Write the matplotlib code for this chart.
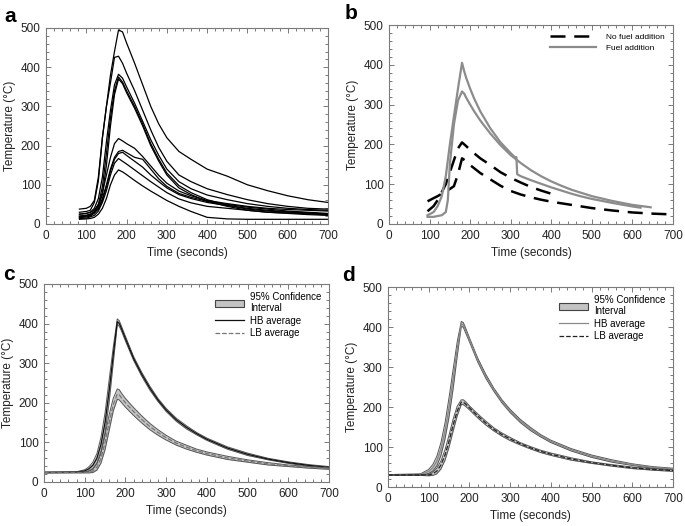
import matplotlib
matplotlib.use("Agg")
import matplotlib.pyplot as plt
from matplotlib.ticker import MultipleLocator
from matplotlib.patches import Patch
from matplotlib.lines import Line2D
import numpy as np

plt.rcParams['font.family'] = ['Liberation Sans', 'DejaVu Sans']

# ---------------- Panel a data ----------------
t_a = [83, 100, 110, 120, 130, 140, 150, 160, 170, 180, 190, 200, 220, 240, 260,
       280, 300, 330, 360, 400, 450, 500, 550, 600, 650, 700]
a_h1 = [38, 40, 45, 60, 120, 220, 300, 380, 440, 495, 490, 462, 410, 355, 300,
        255, 220, 185, 165, 140, 122, 100, 85, 72, 62, 55]
a_h2 = [30, 32, 35, 55, 110, 220, 300, 360, 425, 428, 410, 385, 340, 290, 240,
        195, 160, 125, 108, 90, 75, 62, 52, 45, 40, 38]
a_h3 = [25, 27, 30, 40, 65, 120, 210, 290, 355, 382, 372, 350, 308, 262, 215,
        175, 140, 108, 90, 74, 62, 52, 45, 40, 37, 35]
a_h4 = [20, 22, 25, 32, 50, 95, 180, 270, 340, 375, 362, 340, 300, 255, 205,
        165, 130, 98, 80, 62, 48, 38, 33, 30, 28, 25]
a_h5 = [16, 18, 20, 28, 45, 75, 150, 250, 330, 370, 358, 335, 295, 250, 200,
        160, 125, 92, 75, 58, 45, 35, 30, 28, 26, 23]
a_l1 = [25, 27, 30, 35, 50, 80, 125, 170, 205, 218, 212, 205, 193, 172, 148,
        124, 104, 84, 72, 60, 52, 45, 40, 37, 35, 33]
a_l2 = [20, 22, 25, 30, 40, 65, 100, 140, 170, 185, 188, 182, 170, 165, 140,
        115, 96, 78, 68, 58, 50, 43, 38, 33, 30, 27]
a_l3 = [18, 20, 22, 28, 38, 60, 95, 135, 165, 180, 183, 175, 160, 145, 125,
        108, 92, 75, 65, 55, 47, 40, 35, 31, 28, 25]
a_l4 = [14, 15, 18, 22, 33, 55, 85, 125, 155, 167, 160, 153, 138, 123, 108,
        94, 80, 64, 54, 45, 40, 35, 30, 27, 24, 22]
a_l5 = [12, 13, 14, 17, 25, 40, 65, 100, 125, 138, 133, 126, 111, 97, 84,
        72, 60, 45, 32, 17, 13, 12, 12, 12, 12, 12]
a_series = [a_h1, a_h2, a_h3, a_h4, a_h5, a_l1, a_l2, a_l3, a_l4, a_l5]

# ---------------- Panel b data ----------------
t_b_dash1 = [95, 110, 120, 130, 140, 150, 160, 170, 180, 190, 200, 225, 250, 275,
             300, 325, 350, 375, 400, 415]
b_dash1 = [32, 45, 60, 80, 100, 130, 160, 190, 205, 196, 186, 165, 148, 130,
           116, 104, 93, 84, 76, 70]
t_b_dash2 = [95, 110, 120, 130, 140, 150, 160, 170, 180, 190, 200, 225, 250, 275,
             300, 325, 350, 375, 400, 450, 500, 550, 600, 650, 700]
b_dash2 = [57, 65, 70, 76, 82, 88, 95, 125, 165, 158, 148, 128, 112, 96,
           83, 74, 67, 61, 56, 48, 40, 34, 29, 26, 24]
t_b_gray1 = [95, 110, 120, 130, 140, 150, 160, 170, 180, 185, 190, 200, 210, 225,
             250, 275, 300, 312, 314, 316, 325, 350, 375, 400, 425, 450, 475,
             500, 550, 600, 620]
b_gray1 = [22, 30, 45, 70, 120, 200, 270, 340, 405, 385, 368, 340, 315, 283,
           240, 205, 178, 166, 168, 125, 120, 110, 101, 92, 84, 76, 69,
           63, 53, 44, 41]
t_b_gray2 = [95, 110, 120, 130, 140, 145, 150, 160, 170, 180, 185, 190, 200, 210,
             225, 250, 275, 300, 325, 350, 375, 400, 425, 450, 475, 500, 550,
             600, 645]
b_gray2 = [18, 18, 20, 22, 30, 60, 150, 250, 310, 333, 328, 318, 300, 283,
           260, 227, 198, 173, 153, 135, 120, 107, 96, 86, 78, 70, 58,
           48, 42]
b_labels = ["No fuel addition", "Fuel addition"]

# ---------------- Panels c, d data ----------------
t_cd = [0, 80, 100, 110, 120, 130, 140, 150, 160, 170, 180, 185, 190, 200, 220,
        240, 260, 280, 300, 325, 350, 375, 400, 450, 500, 550, 600, 650, 700]
c_hb = [24, 25, 28, 33, 42, 60, 95, 150, 230, 320, 405, 400, 388, 362, 312,
        272, 237, 207, 182, 157, 138, 122, 108, 86, 70, 58, 49, 42, 37]
c_hb_ci = [1, 1, 3, 5, 8, 12, 18, 25, 28, 20, 7, 7, 6, 6, 5,
           5, 5, 4, 4, 4, 4, 3, 3, 3, 3, 2, 2, 2, 2]
c_lb = [24, 24, 24, 25, 28, 38, 60, 100, 150, 195, 222, 220, 213, 200, 178,
        158, 140, 125, 112, 98, 88, 79, 72, 61, 53, 46, 41, 37, 34]
c_lb_ci = [1, 1, 1, 2, 4, 8, 12, 18, 20, 16, 13, 13, 12, 11, 10,
           9, 8, 7, 6, 5, 5, 4, 4, 4, 3, 3, 2, 2, 2]
d_hb = [30, 31, 39, 48, 65, 95, 140, 200, 270, 345, 408, 405, 393, 368, 318,
        277, 243, 214, 190, 165, 145, 128, 114, 93, 77, 65, 56, 49, 45]
d_hb_ci = [1, 2, 5, 8, 12, 16, 20, 24, 24, 18, 6, 6, 6, 5, 5,
           5, 4, 4, 4, 4, 4, 3, 3, 3, 3, 3, 2, 2, 2]
d_lb = [30, 30, 30, 33, 40, 55, 80, 115, 155, 190, 212, 212, 208, 198, 178,
        160, 144, 131, 120, 108, 98, 89, 82, 70, 61, 54, 48, 44, 41]
d_lb_ci = [1, 1, 2, 4, 7, 10, 13, 15, 15, 12, 6, 6, 6, 5, 5,
           5, 4, 4, 4, 3, 3, 3, 3, 3, 2, 2, 2, 2, 2]
cd_labels = ["95% Confidence\nInterval", "HB average", "LB average"]

xlabel = "Time (seconds)"
ylabel = "Temperature (°C)"

# ---------------- Figure ----------------
fig = plt.figure(figsize=(6.85, 5.26), dpi=100)
W, H = 685, 526

def px_axes(l, r, t, b):
    return fig.add_axes([l / W, 1 - b / H, (r - l) / W, (b - t) / H])

axa = px_axes(46, 328, 28, 224)
axb = px_axes(389, 673, 25, 224)
axc = px_axes(44, 329, 284, 482)
axd = px_axes(388, 673, 287, 487)

spine_col = "#7a7a7a"
for ax in (axa, axb, axc, axd):
    ax.set_xlim(0, 700)
    ax.set_ylim(0, 500)
    ax.xaxis.set_major_locator(MultipleLocator(100))
    ax.yaxis.set_major_locator(MultipleLocator(100))
    ax.xaxis.set_minor_locator(MultipleLocator(20))
    ax.yaxis.set_minor_locator(MultipleLocator(20))
    ax.tick_params(which='both', direction='in', top=True, right=True,
                   color=spine_col, width=0.7, labelsize=8.5, labelcolor='#222222')
    ax.tick_params(which='major', length=3.5, pad=4)
    ax.tick_params(which='minor', length=2)
    for s in ax.spines.values():
        s.set_color(spine_col)
        s.set_linewidth(0.8)
    ax.set_xlabel(xlabel, fontsize=8.5, color='#222222', labelpad=4)
    ax.set_ylabel(ylabel, fontsize=8.5, color='#222222', labelpad=3)

# Panel a
for ys in a_series:
    axa.plot(t_a, ys, color='black', lw=0.9)

# Panel b
dash_kw = dict(color='black', lw=1.8, dashes=(6, 3.5))
gray_kw = dict(color='#8c8c8c', lw=1.6)
axb.plot(t_b_dash1, b_dash1, **dash_kw)
axb.plot(t_b_dash2, b_dash2, **dash_kw)
axb.plot(t_b_gray1, b_gray1, **gray_kw)
axb.plot(t_b_gray2, b_gray2, **gray_kw)
hb = [Line2D([], [], **dash_kw), Line2D([], [], **gray_kw)]
axb.legend(hb, b_labels, loc='upper right', frameon=False, fontsize=6,
           handlelength=5.5, handletextpad=1.2, borderaxespad=0.6,
           labelspacing=0.3)

# Panels c, d
def band_panel(ax, hb_mean, hb_ci, lb_mean, lb_ci, hb_col, lb_col):
    t = np.array(t_cd)
    for mean, ci, col, ls in ((hb_mean, hb_ci, hb_col, '-'),
                              (lb_mean, lb_ci, lb_col, '--')):
        m = np.array(mean, float)
        c = np.array(ci, float)
        ax.fill_between(t, m - c, m + c, color='#c4c4c4', lw=0)
        ax.plot(t, m - c, color='#555555', lw=0.7)
        ax.plot(t, m + c, color='#555555', lw=0.7)
        ax.plot(t, m, color=col, lw=0.9, ls=ls)
    handles = [Patch(facecolor='#c4c4c4', edgecolor='#444444', lw=0.8),
               Line2D([], [], color=hb_col, lw=0.9),
               Line2D([], [], color=lb_col, lw=0.9, ls='--')]
    ax.legend(handles, cd_labels, loc='upper right', frameon=False, fontsize=7,
              handlelength=3.0, handletextpad=0.6, borderaxespad=0.4,
              labelspacing=0.25)

band_panel(axc, c_hb, c_hb_ci, c_lb, c_lb_ci, '#111111', '#777777')
band_panel(axd, d_hb, d_hb_ci, d_lb, d_lb_ci, '#888888', '#222222')

# Panel letters
for lbl, x, y in (("a", 4, 22), ("b", 345, 19), ("c", 3, 280), ("d", 342, 281)):
    fig.text(x / W, 1 - y / H, lbl, fontsize=15, fontweight='bold',
             va='baseline', ha='left')

fig.savefig("out.png", dpi=100)
